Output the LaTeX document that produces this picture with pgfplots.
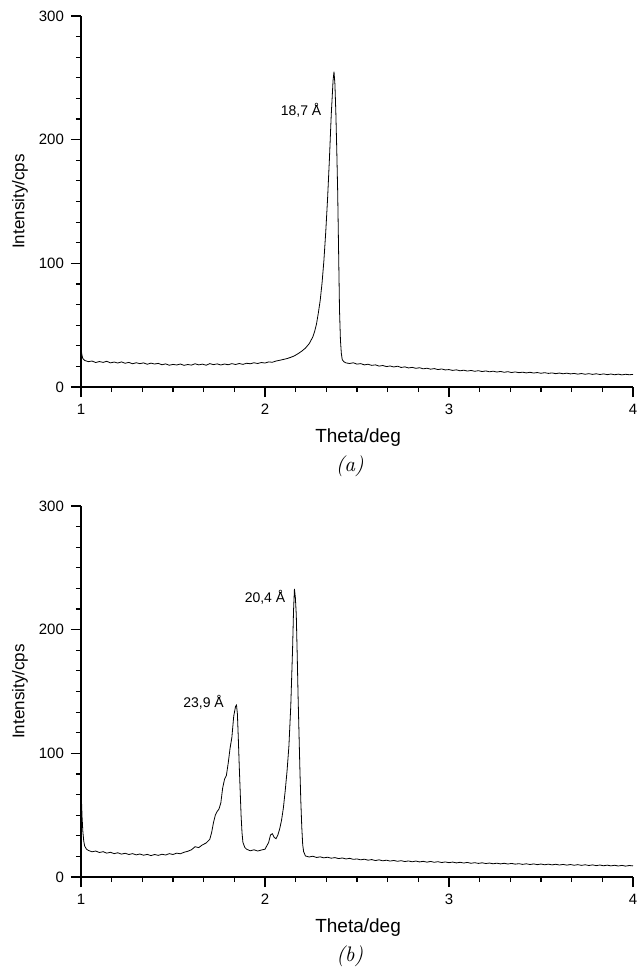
\documentclass[border=0pt]{standalone}
\usepackage{pgfplots}
\pgfplotsset{compat=1.18}
\usepackage{fontspec}
\setsansfont{Liberation Sans}
\pgfplotstableread{
x y
1.000 31
1.005 26
1.010 23
1.02 21.5
1.04 20.5
1.06 21
1.08 19.8
1.10 20.6
1.12 19.9
1.14 20.8
1.16 19.5
1.18 20.2
1.20 19.4
1.22 20.3
1.24 19.2
1.26 19.9
1.28 18.8
1.30 19.6
1.32 18.9
1.34 19.5
1.36 18.4
1.38 19.3
1.40 18.6
1.42 19.1
1.44 18.0
1.46 18.7
1.48 17.6
1.50 18.3
1.52 17.8
1.54 18.6
1.56 17.5
1.58 18.2
1.60 17.7
1.62 18.8
1.64 17.9
1.66 18.5
1.68 17.6
1.70 18.9
1.72 18.1
1.74 18.7
1.76 17.8
1.78 18.6
1.80 18.0
1.82 18.9
1.84 18.2
1.86 19.0
1.88 18.3
1.90 19.2
1.92 18.8
1.94 19.6
1.96 19.0
1.98 19.8
2.00 19.4
2.02 20.3
2.04 20.0
2.06 21.0
2.08 21.6
2.10 22.3
2.12 23.0
2.14 24.0
2.16 25.2
2.18 27.0
2.20 29.0
2.22 31.5
2.24 35
2.26 40.5
2.27 45
2.28 51
2.29 60
2.30 70
2.31 84
2.32 102
2.33 125
2.34 152
2.35 184
2.36 220
2.37 248
2.375 255
2.38 245
2.385 222
2.39 192
2.395 158
2.40 110
2.405 62
2.41 38
2.415 27
2.42 22
2.43 20.3
2.44 19.5
2.46 19.0
2.48 19.6
2.50 18.5
2.52 18.9
2.54 17.9
2.56 18.4
2.58 17.5
2.60 17.9
2.62 16.9
2.64 17.4
2.66 16.5
2.68 17.0
2.70 16.2
2.72 16.8
2.74 15.8
2.76 16.3
2.78 15.4
2.80 15.9
2.82 15.1
2.84 15.6
2.86 14.7
2.88 15.2
2.90 14.4
2.92 14.9
2.94 14.1
2.96 14.6
2.98 13.8
3.00 14.1
3.02 13.4
3.04 13.9
3.06 13.1
3.08 13.6
3.10 12.9
3.12 13.4
3.14 12.7
3.16 13.2
3.18 12.5
3.20 13.0
3.22 12.3
3.24 12.8
3.26 12.1
3.28 12.6
3.30 11.9
3.32 12.4
3.34 11.7
3.36 12.2
3.38 11.6
3.40 12.0
3.42 11.4
3.44 11.9
3.46 11.3
3.48 11.7
3.50 11.1
3.52 11.6
3.54 11.0
3.56 11.4
3.58 10.8
3.60 11.3
3.62 10.7
3.64 11.2
3.66 10.6
3.68 11.0
3.70 10.4
3.72 10.9
3.74 10.3
3.76 10.8
3.78 10.2
3.80 10.7
3.82 10.1
3.84 10.6
3.86 10.0
3.88 10.5
3.90 9.9
3.92 10.4
3.94 9.8
3.96 10.3
3.98 9.9
4.00 10.2
}\dataA
\pgfplotstableread{
x y
1.000 72
1.003 60
1.006 48
1.010 37
1.015 29
1.02 25
1.03 22.5
1.04 21.5
1.06 20.4
1.08 21.0
1.10 19.8
1.12 20.5
1.14 19.3
1.16 20.0
1.18 18.9
1.20 19.6
1.22 18.5
1.24 19.2
1.26 18.2
1.28 18.9
1.30 17.9
1.32 18.6
1.34 17.6
1.36 18.3
1.38 17.3
1.40 18.2
1.42 17.5
1.44 18.4
1.46 17.8
1.48 18.9
1.50 18.2
1.52 19.3
1.54 18.8
1.56 20.0
1.58 20.8
1.60 22.0
1.62 24.5
1.64 23.8
1.66 26.0
1.68 27.5
1.70 30.5
1.71 36
1.72 44
1.73 50
1.74 53
1.75 55
1.76 60
1.77 72
1.78 79
1.79 82
1.80 92
1.81 104
1.82 113
1.83 130
1.835 134
1.84 138
1.845 139
1.85 132
1.855 112
1.86 90
1.865 70
1.87 50
1.875 36
1.88 28
1.89 24
1.90 22.5
1.92 21.2
1.94 22.0
1.96 21.0
1.98 21.8
2.00 22.5
2.02 28
2.03 34
2.04 35
2.05 32
2.06 31
2.07 34
2.08 39
2.09 46
2.10 56
2.11 70
2.12 86
2.13 106
2.14 138
2.15 185
2.155 215
2.16 233
2.165 226
2.17 212
2.175 180
2.18 145
2.185 115
2.19 85
2.195 60
2.20 40
2.205 26
2.21 20.5
2.22 17.0
2.24 16.2
2.26 16.8
2.28 15.8
2.30 16.3
2.32 15.5
2.34 16.0
2.36 15.2
2.38 15.7
2.40 14.9
2.42 15.4
2.44 14.6
2.46 15.1
2.48 14.3
2.50 14.6
2.52 13.9
2.54 14.4
2.56 13.6
2.58 14.1
2.60 13.3
2.62 13.9
2.64 13.1
2.66 13.6
2.68 12.9
2.70 13.4
2.72 12.7
2.74 13.2
2.76 12.5
2.78 13.0
2.80 12.3
2.82 12.9
2.84 12.2
2.86 12.7
2.88 12.0
2.90 12.6
2.92 11.9
2.94 12.4
2.96 11.7
2.98 12.2
3.00 11.6
3.02 12.1
3.04 11.4
3.06 11.9
3.08 11.3
3.10 11.8
3.12 11.1
3.14 11.6
3.16 11.0
3.18 11.5
3.20 10.9
3.22 11.3
3.24 10.7
3.26 11.2
3.28 10.6
3.30 11.1
3.32 10.5
3.34 11.0
3.36 10.4
3.38 10.8
3.40 10.2
3.42 10.7
3.44 10.1
3.46 10.6
3.48 10.0
3.50 10.5
3.52 9.9
3.54 10.4
3.56 9.8
3.58 10.3
3.60 9.7
3.62 10.2
3.64 9.6
3.66 10.1
3.68 9.5
3.70 10.0
3.72 9.4
3.74 9.9
3.76 9.3
3.78 9.8
3.80 9.2
3.82 9.7
3.84 9.1
3.86 9.6
3.88 9.0
3.90 9.5
3.92 8.9
3.94 9.4
3.96 8.8
3.98 9.3
4.00 9.0
}\dataB
\pgfplotsset{
  xrdaxis/.style={
    scale only axis,
    width=276pt, height=185.5pt,
    xmin=1, xmax=4, ymin=0, ymax=300,
    axis x line*=bottom, axis y line*=left,
    axis line style={line width=0.6pt},
    tick align=outside,
    tick style={black, line width=0.6pt},
    major tick length=5pt, minor tick length=2.5pt,
    xtick={1,2,3,4}, ytick={0,100,200,300},
    minor x tick num=5, minor y tick num=5,
    font=\sffamily\fontsize{7.5}{9}\selectfont,
    ticklabel style={font=\sffamily\fontsize{7.5}{9}\selectfont},
    /pgf/number format/assume math mode=true,
    xlabel={Theta/deg}, ylabel={Intensity/cps},
    xlabel style={at={(axis description cs:0.502,-0.135)}, anchor=center, font=\sffamily\fontsize{9.5}{11}\selectfont},
    ylabel style={at={(axis description cs:-0.1105,0.5)}, anchor=center, rotate=0, font=\sffamily\fontsize{8.5}{10}\selectfont},
    clip=false,
  }
}
\begin{document}
\begin{tikzpicture}
\path[use as bounding box] (0,0) rectangle (320pt,-487.5pt);
\begin{axis}[xrdaxis, at={(40.5pt,-193.5pt)}, anchor=south west]
\addplot[black, line width=0.4pt] table[x=x,y=y] {\dataA};
\node[font=\sffamily\fontsize{7}{8}\selectfont] at (axis cs:2.196,224) {18,7 Å};
\node[font=\rmfamily\itshape\fontsize{10.5}{12}\selectfont] at (axis description cs:0.487,-0.213) {(a)};
\end{axis}
\begin{axis}[xrdaxis, at={(40.5pt,-438.5pt)}, anchor=south west]
\addplot[black, line width=0.4pt] table[x=x,y=y] {\dataB};
\node[font=\sffamily\fontsize{7}{8}\selectfont] at (axis cs:1.666,141.5) {23,9 Å};
\node[font=\sffamily\fontsize{7}{8}\selectfont] at (axis cs:2.0,226) {20,4 Å};
\node[font=\rmfamily\itshape\fontsize{10.5}{12}\selectfont] at (axis description cs:0.487,-0.213) {(b)};
\end{axis}
\end{tikzpicture}
\end{document}
